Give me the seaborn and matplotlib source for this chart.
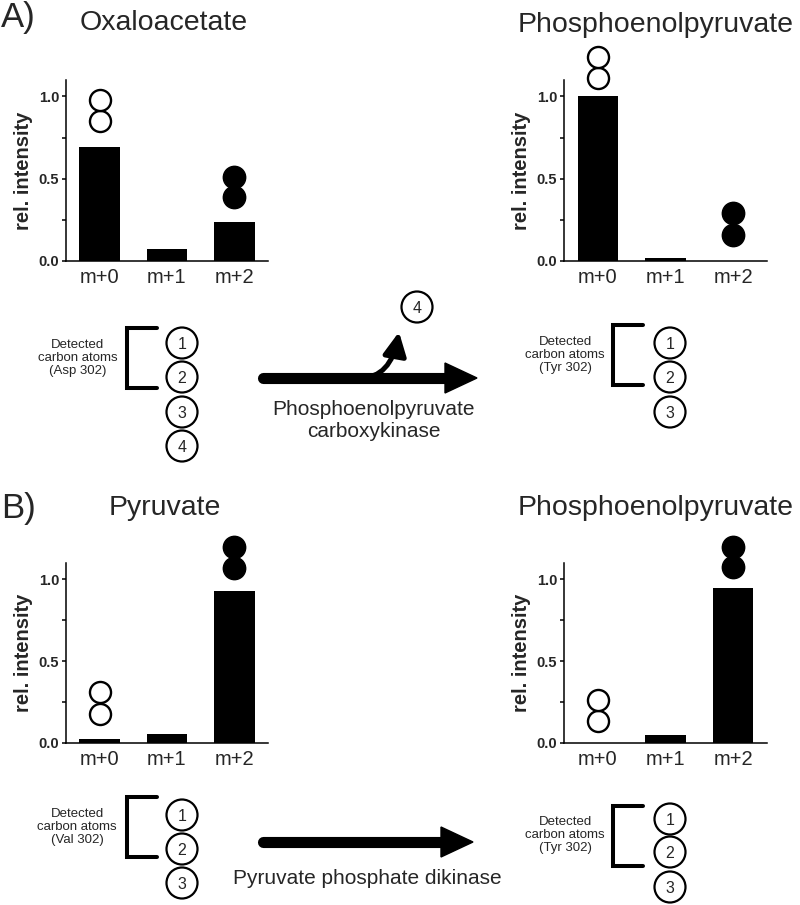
import matplotlib
matplotlib.use("Agg")
import matplotlib.pyplot as plt
import seaborn as sns
import pandas as pd
from matplotlib.patches import Circle, Polygon, FancyArrowPatch

# mass isotopologue data
isotopologues = ["m+0", "m+1", "m+2"]
oaa_intensity = [0.69, 0.073, 0.24]
pep_a_intensity = [1.0, 0.02, 0.0]
pyr_intensity = [0.024, 0.055, 0.927]
pep_b_intensity = [0.0, 0.05, 0.95]

# label circles: two 12C (open) circles above m+0, two 13C (filled) above m+2
oaa_open_y = [0.848, 0.977]
oaa_filled_y = [0.39, 0.512]
pep_a_open_y = [1.11, 1.24]
pep_a_filled_y = [0.16, 0.29]
pyr_open_y = [0.18, 0.31]
pyr_filled_y = [1.07, 1.20]
pep_b_open_y = [0.135, 0.26]
pep_b_filled_y = [1.075, 1.20]

W, H = 800, 905

sns.set_style("ticks")
plt.rcParams['font.family'] = ['Liberation Sans', 'DejaVu Sans']

fig = plt.figure(figsize=(W / 100, H / 100), dpi=100)


def px_axes(x0, y0, x1, y1):
    return fig.add_axes([x0 / W, 1 - y1 / H, (x1 - x0) / W, (y1 - y0) / H])


def bar_panel(ax, values, open_y, filled_y):
    df = pd.DataFrame({"iso": isotopologues, "val": values})
    sns.barplot(data=df, x="iso", y="val", color="black", saturation=1,
                width=0.6, errorbar=None, linewidth=0, ax=ax)
    sns.scatterplot(x=[0] * len(open_y), y=open_y, s=230, color="white",
                    edgecolor="black", linewidth=1.7, clip_on=False,
                    zorder=5, ax=ax)
    sns.scatterplot(x=[2] * len(filled_y), y=filled_y, s=260, color="black",
                    edgecolor="black", linewidth=1, clip_on=False,
                    zorder=5, ax=ax)
    ax.set_xlim(-0.5, 2.5)
    ax.set_ylim(0, 1.1)
    ax.set_yticks([0, 0.5, 1.0])
    ax.set_yticklabels(["0.0", "0.5", "1.0"], fontweight="bold", fontsize=10.5)
    ax.set_yticks([0.25, 0.75], minor=True)
    ax.tick_params(axis="y", which="both", direction="out", length=3,
                   width=1.1, color="black", pad=2)
    ax.tick_params(axis="x", length=0, labelsize=14.5, pad=5)
    ax.set_xlabel("")
    ax.set_ylabel("rel. intensity", fontsize=14.5, fontweight="bold")
    ax.yaxis.set_label_coords(-0.165, 0.5)
    for s in ["top", "right"]:
        ax.spines[s].set_visible(False)
    for s in ["left", "bottom"]:
        ax.spines[s].set_linewidth(1.1)
        ax.spines[s].set_color("black")
    ax.set_facecolor("none")


bar_panel(px_axes(66, 80, 268, 261), oaa_intensity, oaa_open_y, oaa_filled_y)
bar_panel(px_axes(564, 80, 767, 261), pep_a_intensity, pep_a_open_y, pep_a_filled_y)
bar_panel(px_axes(66, 563, 268, 743), pyr_intensity, pyr_open_y, pyr_filled_y)
bar_panel(px_axes(564, 563, 767, 743), pep_b_intensity, pep_b_open_y, pep_b_filled_y)

# overlay for titles and the atom diagrams (pixel coordinates)
ov = fig.add_axes([0, 0, 1, 1])
ov.set_xlim(0, W)
ov.set_ylim(H, 0)
ov.axis("off")
ov.set_facecolor("none")

ov.text(1, 27, "A)", fontsize=25, va="baseline", ha="left")
ov.text(1, 518, "B)", fontsize=25, va="baseline", ha="left")
ov.text(164, 30, "Oxaloacetate", fontsize=20.5, va="baseline", ha="center")
ov.text(656, 32, "Phosphoenolpyruvate", fontsize=20.5, va="baseline", ha="center")
ov.text(165, 515, "Pyruvate", fontsize=20.5, va="baseline", ha="center")
ov.text(656, 515, "Phosphoenolpyruvate", fontsize=20.5, va="baseline", ha="center")


def atoms(tx, ty, residue, bx, by0, by1, cx, cys):
    ov.text(tx, ty, "Detected\ncarbon atoms\n(%s)" % residue, fontsize=9.5,
            ha="center", va="center", linespacing=1.15)
    ov.plot([bx + 30, bx, bx, bx + 30], [by0, by0, by1, by1], color="black",
            lw=2.9, solid_joinstyle="miter", solid_capstyle="round")
    for i, cy in enumerate(cys):
        ov.add_patch(Circle((cx, cy), 15.5, facecolor="white",
                            edgecolor="black", lw=1.6))
        ov.text(cx, cy + 1, str(i + 1), fontsize=11.5, ha="center", va="center")


def main_arrow(x0, x1, y):
    ov.plot([x0, x1 - 30], [y, y], color="black", lw=8, solid_capstyle="round")
    ov.add_patch(Polygon([(x1 - 32, y - 15), (x1, y), (x1 - 32, y + 15)],
                         closed=True, color="black"))


atoms(78, 358, "Asp 302", 127, 328, 388, 182, [343, 377, 412, 446])
atoms(565, 355, "Tyr 302", 613, 325, 385, 670, [343, 377, 412])
atoms(77, 827, "Val 302", 127, 797, 857, 182, [815, 849, 883])
atoms(565, 835, "Tyr 302", 613, 806, 866, 670, [819, 852, 887])

main_arrow(263, 477, 378)
ov.add_patch(FancyArrowPatch((360, 378), (399, 332),
                             connectionstyle="angle3,angleA=0,angleB=80",
                             arrowstyle="-|>,head_length=1.0,head_width=0.5",
                             mutation_scale=14, lw=3.6, color="black",
                             shrinkA=0, shrinkB=0))
ov.add_patch(Circle((417, 307), 15.5, facecolor="white", edgecolor="black", lw=1.6))
ov.text(417, 308, "4", fontsize=11.5, ha="center", va="center")
ov.text(374, 420, "Phosphoenolpyruvate\ncarboxykinase", fontsize=15,
        ha="center", va="center", linespacing=1.2)

main_arrow(263, 473, 842)
ov.text(367, 878, "Pyruvate phosphate dikinase", fontsize=15,
        ha="center", va="center")

fig.savefig("out.png", dpi=100)
